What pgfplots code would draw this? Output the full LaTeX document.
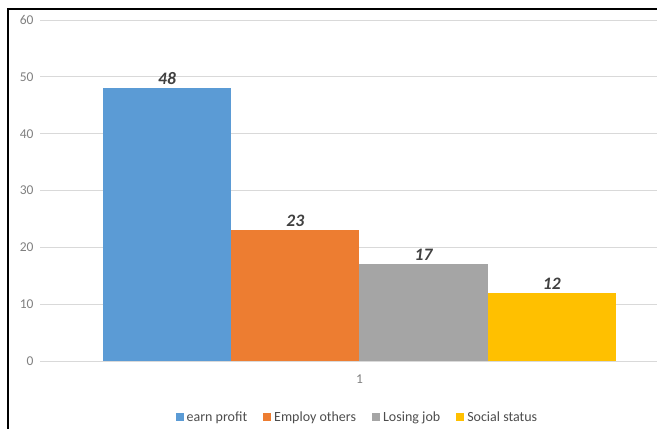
\documentclass[border=0pt]{standalone}
\usepackage{pgfplots}
\pgfplotsset{compat=1.18}
\usepackage{fontspec}
\setmainfont{Carlito}
\definecolor{cblue}{HTML}{5B9BD5}
\definecolor{corange}{HTML}{ED7D31}
\definecolor{cgray}{HTML}{A5A5A5}
\definecolor{cgold}{HTML}{FFC000}
\definecolor{gridc}{HTML}{D9D9D9}
\definecolor{tickc}{HTML}{808080}
\definecolor{labc}{HTML}{404040}
\begin{document}
\begin{tikzpicture}[x=1pt,y=1pt]
\useasboundingbox (0,0) rectangle (657,429);
\clip (0,0) rectangle (657,429);
\begin{axis}[
  at={(40pt,68pt)}, anchor=south west,
  scale only axis, width=620pt, height=341pt,
  xmin=0.3772, xmax=1.5858, ymin=0, ymax=60,
  ytick={0,10,20,30,40,50,60},
  xtick={1}, xticklabels={1},
  ymajorgrids, grid style={gridc, line width=1pt},
  axis line style={draw=none}, tick style={draw=none},
  /pgf/number format/assume math mode=true,
  ticklabel style={font=\fontsize{13.5}{15}\selectfont, text=tickc},
  yticklabel style={xshift=-3pt},
  xticklabel style={yshift=-6pt},
  ybar, bar width=128.25pt,
  nodes near coords,
  every node near coord/.append style={font=\fontsize{17.5}{19}\selectfont\bfseries\itshape, text=labc, yshift=0pt},
  legend columns=4,
  legend style={at={(0.512,-0.164)}, anchor=center, draw=none, fill=none,
    font=\fontsize{14}{16}\selectfont, text=tickc!60!black,
    /tikz/every even column/.append style={column sep=14pt},
    /tikz/every odd column/.append style={column sep=1pt}},
  legend image code/.code={\fill[#1] (0pt,-4pt) rectangle (8pt,4pt);},
]
\addplot[fill=cblue, draw=none, bar shift=-192.375pt] coordinates {(1,48)};
\addplot[fill=corange, draw=none, bar shift=-64.125pt] coordinates {(1,23)};
\addplot[fill=cgray, draw=none, bar shift=64.125pt] coordinates {(1,17)};
\addplot[fill=cgold, draw=none, bar shift=192.375pt] coordinates {(1,12)};
\legend{earn profit, Employ others, Losing job, Social status}
\end{axis}
\draw[line width=2pt] (8,420) rectangle (720,-30);
\end{tikzpicture}
\end{document}
